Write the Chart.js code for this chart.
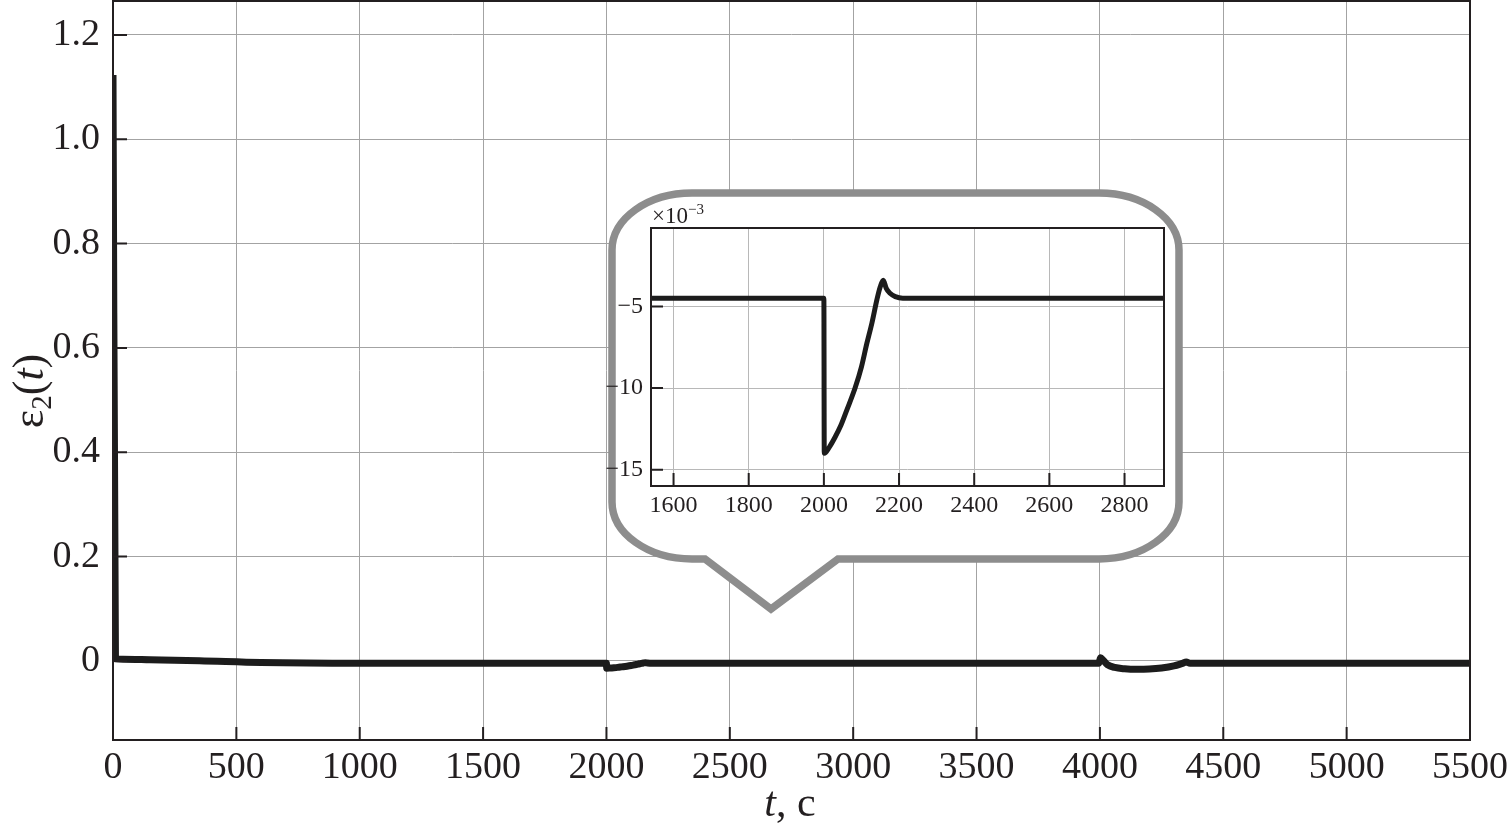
<!DOCTYPE html>
<html><head><meta charset="utf-8">
<script src="https://cdn.jsdelivr.net/npm/chart.js@4.4.1/dist/chart.umd.min.js"></script>
<style>
html,body{margin:0;padding:0;background:#fff;}
#wrap{position:relative;width:1512px;height:831px;overflow:hidden;}
#main{position:absolute;left:0;top:0;}
#inset{position:absolute;left:600px;top:190px;}
</style></head><body>
<div id="wrap"><canvas id="main" width="1512" height="831"></canvas><canvas id="inset" width="600" height="330"></canvas></div>
<script>
// ---- data (time in seconds, error signal eps2) ----
const timeSec = [0, 10, 40, 150, 350, 600, 1000, 1540, 2000, 2001, 2015, 2030, 2045, 2061, 2083, 2100, 2114, 2128, 2141, 2150, 2158, 2166, 2176, 2190, 2210, 3000, 3995, 4003, 4012, 4030, 4060, 4100, 4150, 4200, 4250, 4300, 4335, 4350, 4365, 5000, 5500];
const eps2 = [1.123, 0.004, 0.0035, 0.0025, 0.0005, -0.003, -0.0045, -0.0045, -0.0045, -0.0140, -0.0136, -0.0130, -0.0123, -0.01135, -0.0100, -0.0087, -0.0073, -0.0060, -0.0046, -0.0038, -0.0034, -0.0039, -0.0042, -0.0044, -0.0045, -0.0045, -0.0045, 0.0060, 0.0020, -0.0070, -0.0125, -0.0150, -0.0160, -0.0155, -0.0135, -0.0095, -0.0045, -0.0022, -0.0045, -0.0045, -0.0045];

const mainXTicks = [0, 500, 1000, 1500, 2000, 2500, 3000, 3500, 4000, 4500, 5000, 5500];
const mainYTicks = [0, 0.2, 0.4, 0.6, 0.8, 1.0, 1.2];
const mainYLabels = ['0', '0.2', '0.4', '0.6', '0.8', '1.0', '1.2'];

const insetFactor = 1000; // inset shown in units of 10^-3
const insetXTicks = [1600, 1800, 2000, 2200, 2400, 2600, 2800];
const insetYTicks = [-15, -10, -5];
const insetYLabels = ['\u221215', '\u221210', '\u22125'];

const SERIF = '"Liberation Serif", "DejaVu Serif", serif';
const INK = '#231f20';
const LINE = '#1c1c1c';

const mainPoints = timeSec.map((t, i) => ({x: t, y: eps2[i]}));
const insetPoints = timeSec.map((t, i) => ({x: t, y: eps2[i] * insetFactor}));

function zeroPad(s) { s.paddingTop = 0; s.paddingBottom = 0; s.paddingLeft = 0; s.paddingRight = 0; }

const mainDecor = {
  id: 'mainDecor',
  afterDatasetsDraw(chart) {
    const ctx = chart.ctx, a = chart.chartArea;
    const xs = chart.scales.x, ys = chart.scales.y;
    ctx.save();
    // frame
    ctx.strokeStyle = INK; ctx.lineWidth = 2;
    ctx.strokeRect(a.left, a.top, a.right - a.left, a.bottom - a.top);
    // inward ticks
    ctx.beginPath();
    mainYTicks.forEach(v => { const y = ys.getPixelForValue(v); ctx.moveTo(a.left, y); ctx.lineTo(a.left + 14, y); });
    mainXTicks.forEach(v => { const x = xs.getPixelForValue(v); ctx.moveTo(x, a.bottom); ctx.lineTo(x, a.bottom - 13); });
    ctx.stroke();

    // callout bubble
    const L = 612, R = 1179, T = 193, B = 559, rx = 80, ry = 57, k = 0.5523;
    ctx.beginPath();
    ctx.moveTo(L + rx, T);
    ctx.lineTo(R - rx, T);
    ctx.bezierCurveTo(R - rx + rx * k, T, R, T + ry - ry * k, R, T + ry);
    ctx.lineTo(R, B - ry);
    ctx.bezierCurveTo(R, B - ry + ry * k, R - rx + rx * k, B, R - rx, B);
    ctx.lineTo(838, B);
    ctx.lineTo(771, 609);
    ctx.lineTo(705, B);
    ctx.lineTo(L + rx, B);
    ctx.bezierCurveTo(L + rx - rx * k, B, L, B - ry + ry * k, L, B - ry);
    ctx.lineTo(L, T + ry);
    ctx.bezierCurveTo(L, T + ry - ry * k, L + rx - rx * k, T, L + rx, T);
    ctx.closePath();
    ctx.fillStyle = '#ffffff'; ctx.fill();
    ctx.strokeStyle = '#8d8d8d'; ctx.lineWidth = 7.5; ctx.lineJoin = 'miter'; ctx.stroke();

    // x title: "t, c"
    ctx.fillStyle = INK; ctx.textBaseline = 'alphabetic';
    const fN = '42px ' + SERIF, fI = 'italic 42px ' + SERIF;
    ctx.font = fI; const wT = ctx.measureText('t').width;
    ctx.font = fN; const wR = ctx.measureText(', c').width;
    let x0 = 790 - (wT + wR) / 2;
    ctx.font = fI; ctx.fillText('t', x0, 816);
    ctx.font = fN; ctx.fillText(', c', x0 + wT, 816);

    // y title: "ε2(t)" rotated
    const gN = '44px ' + SERIF, gI = 'italic 44px ' + SERIF;
    ctx.translate(43, 391); ctx.rotate(-Math.PI / 2);
    const fS = '29px ' + SERIF;
    const parts = [['\u03b5', gN, 0], ['2', fS, 8], ['(', gN, 0], ['t', gI, 0], [')', gN, 0]];
    let tot = 0; parts.forEach(p => { ctx.font = p[1]; p.push(ctx.measureText(p[0]).width); tot += p[3]; });
    let px = -tot / 2;
    parts.forEach(p => { ctx.font = p[1]; ctx.fillText(p[0], px, p[2]); px += p[3]; });
    ctx.restore();
  }
};

new Chart(document.getElementById('main'), {
  type: 'line',
  data: { datasets: [{ data: mainPoints, borderColor: LINE, borderWidth: 7, pointRadius: 0, cubicInterpolationMode: 'monotone', borderJoinStyle: 'round', borderCapStyle: 'butt' }] },
  options: {
    responsive: false, animation: false, devicePixelRatio: 1,
    layout: { padding: { top: 1, right: 42, left: 0, bottom: 0 } },
    plugins: { legend: { display: false }, tooltip: { enabled: false } },
    scales: {
      x: {
        type: 'linear', min: 0, max: 5500,
        afterBuildTicks: s => { s.ticks = mainXTicks.map(v => ({ value: v })); },
        afterFit: s => { s.height = 91; zeroPad(s); },
        grid: { color: '#a3a3a3', lineWidth: 1, drawTicks: false },
        border: { display: false },
        ticks: { font: { family: SERIF, size: 38 }, color: INK, padding: 5, maxRotation: 0, autoSkip: false, callback: v => String(v) }
      },
      y: {
        type: 'linear', min: -0.1515, max: 1.265,
        afterBuildTicks: s => { s.ticks = mainYTicks.map(v => ({ value: v })); },
        afterFit: s => { s.width = 113; zeroPad(s); },
        grid: { color: '#a3a3a3', lineWidth: 1, drawTicks: false },
        border: { display: false },
        ticks: { font: { family: SERIF, size: 38 }, color: INK, padding: 13, autoSkip: false, callback: v => mainYLabels[mainYTicks.indexOf(Math.round(v * 10) / 10)] }
      }
    }
  },
  plugins: [mainDecor]
});

const insetDecor = {
  id: 'insetDecor',
  afterDatasetsDraw(chart) {
    const ctx = chart.ctx, a = chart.chartArea;
    const xs = chart.scales.x, ys = chart.scales.y;
    ctx.save();
    ctx.strokeStyle = INK; ctx.lineWidth = 2;
    ctx.strokeRect(a.left, a.top, a.right - a.left, a.bottom - a.top);
    ctx.beginPath();
    insetYTicks.forEach(v => { const y = ys.getPixelForValue(v); ctx.moveTo(a.left, y); ctx.lineTo(a.left + 12, y); });
    insetXTicks.forEach(v => { const x = xs.getPixelForValue(v); ctx.moveTo(x, a.bottom); ctx.lineTo(x, a.bottom - 13); });
    ctx.stroke();
    // multiplier label ×10^-3
    ctx.fillStyle = INK; ctx.textBaseline = 'alphabetic';
    ctx.font = '23px ' + SERIF;
    const base = '\u00d710';
    ctx.fillText(base, a.left + 1, a.top - 5);
    const w = ctx.measureText(base).width;
    ctx.font = '15px ' + SERIF;
    ctx.fillText('\u22123', a.left + 1 + w, a.top - 14);
    ctx.restore();
  }
};

new Chart(document.getElementById('inset'), {
  type: 'line',
  data: { datasets: [{ data: insetPoints, borderColor: LINE, borderWidth: 5, pointRadius: 0, cubicInterpolationMode: 'monotone', borderJoinStyle: 'round' }] },
  options: {
    responsive: false, animation: false, devicePixelRatio: 1,
    layout: { padding: { top: 38, right: 36, left: 0, bottom: 0 } },
    plugins: { legend: { display: false }, tooltip: { enabled: false } },
    scales: {
      x: {
        type: 'linear', min: 1540, max: 2905,
        afterBuildTicks: s => { s.ticks = insetXTicks.map(v => ({ value: v })); },
        afterFit: s => { s.height = 34; zeroPad(s); },
        grid: { color: '#b8b8b8', lineWidth: 1, drawTicks: false },
        border: { display: false },
        ticks: { font: { family: SERIF, size: 24 }, color: INK, padding: 5, maxRotation: 0, autoSkip: false, callback: v => String(v) }
      },
      y: {
        type: 'linear', min: -16, max: -0.2,
        afterBuildTicks: s => { s.ticks = insetYTicks.map(v => ({ value: v })); },
        afterFit: s => { s.width = 51; zeroPad(s); },
        grid: { color: '#b8b8b8', lineWidth: 1, drawTicks: false },
        border: { display: false },
        ticks: { font: { family: SERIF, size: 24 }, color: INK, padding: 8, autoSkip: false, callback: v => insetYLabels[insetYTicks.indexOf(v)] }
      }
    }
  },
  plugins: [insetDecor]
});
</script>
</body></html>
